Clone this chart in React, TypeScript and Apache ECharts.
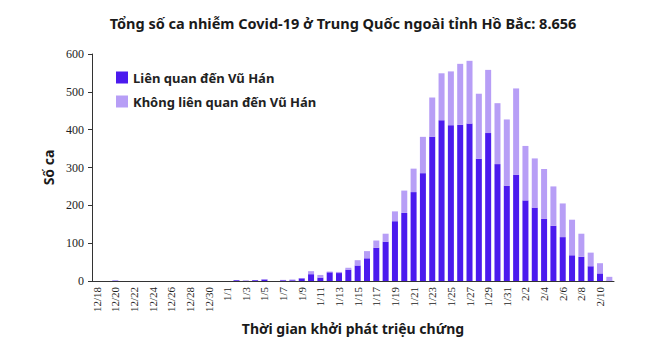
import React, { useEffect, useRef } from "react";
import * as echarts from "echarts";

const categories: string[] = [
  "12/18", "12/19", "12/20", "12/21", "12/22", "12/23", "12/24", "12/25", "12/26", "12/27", "12/28", "12/29", "12/30", "12/31",
  "1/1", "1/2", "1/3", "1/4", "1/5", "1/6", "1/7", "1/8", "1/9", "1/10", "1/11", "1/12", "1/13", "1/14", "1/15", "1/16",
  "1/17", "1/18", "1/19", "1/20", "1/21", "1/22", "1/23", "1/24", "1/25", "1/26", "1/27", "1/28", "1/29", "1/30", "1/31",
  "2/1", "2/2", "2/3", "2/4", "2/5", "2/6", "2/7", "2/8", "2/9", "2/10", "2/11",
];

const wuhanLinked: number[] = [
  0, 0, 1, 0, 0, 0, 0, 0, 0, 0, 0, 0, 0, 0,
  0, 2, 0, 2, 4, 0, 2, 2, 7, 18, 9, 23, 21, 30, 41, 60,
  88, 104, 158, 180, 235, 285, 381, 425, 412, 413, 416, 323, 391, 309, 252,
  281, 213, 194, 164, 146, 116, 68, 64, 39, 20, 1,
];

const notWuhanLinked: number[] = [
  0, 0, 0, 0, 0, 0, 0, 0, 0, 0, 0, 0, 0, 0,
  0, 0, 2, 0, 1, 0, 1, 2, 1, 8, 7, 2, 3, 5, 14, 19,
  19, 21, 26, 59, 62, 96, 104, 124, 142, 161, 166, 172, 167, 161, 175,
  228, 144, 130, 132, 104, 89, 94, 61, 36, 27, 10,
];

const seriesNames = ["Liên quan đến Vũ Hán", "Không liên quan đến Vũ Hán"];
const title = "Tổng số ca nhiễm Covid-19 ở Trung Quốc ngoài tỉnh Hồ Bắc: 8.656";
const yName = "Số ca";
const xName = "Thời gian khởi phát triệu chứng";

const SANS = "'Noto Sans', 'DejaVu Sans', sans-serif";
const SERIF = "'Liberation Serif', 'DejaVu Serif', serif";

export default function App() {
  const ref = useRef<HTMLDivElement>(null);
  useEffect(() => {
    if (!ref.current) return;
    const chart = echarts.init(ref.current, undefined, { renderer: "svg" });
    chart.setOption({
      animation: false,
      backgroundColor: "#ffffff",
      title: {
        text: title,
        left: 330,
        textAlign: "center",
        top: 2,
        textStyle: { fontFamily: SANS, fontSize: 14.5, fontWeight: "bold", color: "#1a1a1a" },
      },
      legend: {
        orient: "vertical",
        left: 103,
        top: 58,
        itemWidth: 12,
        itemHeight: 12,
        itemGap: 11,
        icon: "rect",
        textStyle: { fontFamily: SANS, fontSize: 13, fontWeight: "bold", color: "#222" },
        data: seriesNames,
      },
      grid: { left: 84, right: 38, top: 46, bottom: 66, containLabel: false },
      xAxis: {
        type: "category",
        data: categories,
        name: xName,
        nameLocation: "middle",
        nameGap: 40,
        nameTextStyle: { fontFamily: SANS, fontSize: 14, fontWeight: "bold", color: "#1a1a1a" },
        axisLine: { lineStyle: { color: "#333", width: 1 } },
        axisTick: { show: false },
        axisLabel: {
          interval: 1,
          rotate: 90,
          fontFamily: SERIF,
          fontSize: 11,
          color: "#222",
          margin: 6,
        },
      },
      yAxis: {
        type: "value",
        min: 0,
        max: 600,
        interval: 100,
        name: yName,
        nameLocation: "middle",
        nameGap: 32,
        nameRotate: 90,
        nameTextStyle: { fontFamily: SANS, fontSize: 14, fontWeight: "bold", color: "#1a1a1a" },
        axisLine: { show: true, lineStyle: { color: "#333", width: 1 } },
        axisTick: { show: true, length: 4, lineStyle: { color: "#333" } },
        splitLine: { show: false },
        axisLabel: { fontFamily: SERIF, fontSize: 12, color: "#222", margin: 8 },
      },
      series: [
        {
          name: seriesNames[0],
          type: "bar",
          stack: "total",
          data: wuhanLinked,
          barWidth: 6,
          itemStyle: { color: "#4b1aee" },
        },
        {
          name: seriesNames[1],
          type: "bar",
          stack: "total",
          data: notWuhanLinked,
          barWidth: 6,
          itemStyle: { color: "#b79ef6" },
        },
      ],
    });
    return () => chart.dispose();
  }, []);
  return <div ref={ref} style={{ width: 644, height: 339 }} />;
}
